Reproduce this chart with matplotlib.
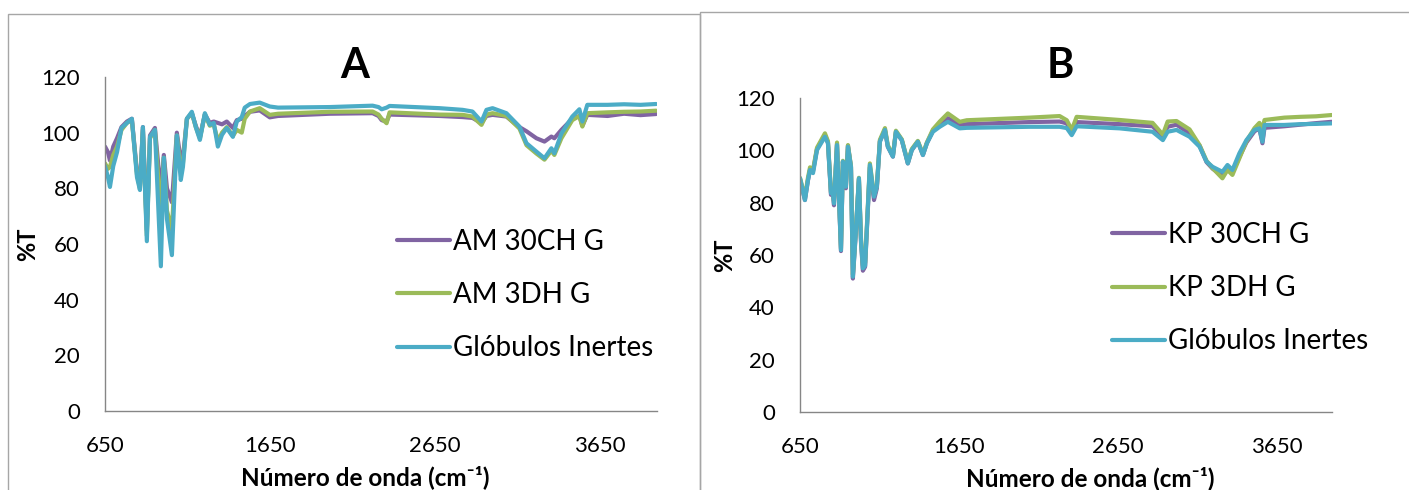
import numpy as np
import matplotlib
matplotlib.use("Agg")
import matplotlib.pyplot as plt
from matplotlib.patches import Rectangle

plt.rcParams['font.family'] = ['Lato', 'DejaVu Sans']

# Espectros IR - painel A (AM)
wn_a = [650, 668, 680, 700, 723, 750, 783, 813, 844, 862, 880, 904, 923, 953, 989,
        1007, 1026, 1056, 1086, 1110, 1123, 1147, 1177, 1201, 1226, 1256, 1286, 1310,
        1335, 1360, 1389, 1426, 1450, 1480, 1498, 1530, 1589, 1650, 1700, 2014, 2274,
        2310, 2329, 2359, 2377, 2680, 2820, 2880, 2935, 2965, 3002, 3086, 3165, 3208,
        3268, 3317, 3359, 3377, 3420, 3486, 3529, 3547, 3577, 3700, 3800, 3900, 3995]
am_30ch = [95, 93, 90, 95, 98, 102, 104, 105, 86, 81, 102, 65, 99, 101.7, 78,
           92, 80, 75, 100, 90, 91, 105, 107, 102.5, 98.5, 106.5, 103.5, 104,
           103.5, 103, 104, 101.7, 104.5, 105, 106, 107.5, 108, 105.5, 106, 106.8, 107,
           106, 104.5, 104, 106.5, 106, 105.6, 105.3, 103.5, 106, 106.4, 105.8, 102, 100.5,
           98, 96.8, 98.6, 98, 101, 105, 106, 102.5, 106.4, 106, 106.8, 106.3, 106.7]
am_3dh = [89, 87, 87.7, 92, 95, 101, 103.5, 104.5, 85, 80, 101, 63, 98, 101, 70,
          91, 72, 65, 99, 86, 89, 105, 107, 102, 98, 106.5, 102.5, 103,
          97, 100, 102, 98.8, 101, 100, 105, 107.6, 108.8, 106.4, 106.8, 107.5, 107.6,
          106.5, 105, 103.4, 107.3, 106.5, 106.4, 105.8, 102.8, 106.5, 107, 106, 101.5, 95.5,
          92.5, 90.3, 93.5, 92, 98, 104.5, 106, 102.2, 107, 107.3, 107.5, 107.6, 107.9]
glob_a = [88, 84, 80.5, 88, 93, 101.7, 103.5, 105, 84, 79.4, 102, 61, 98.5, 101, 52,
          91, 69, 56, 99, 83, 87.7, 105, 107.5, 102, 97.4, 107, 102.8, 103.5,
          95, 99.2, 101.7, 98.5, 104, 105.6, 109, 110.3, 110.8, 109.4, 109, 109.2, 109.7,
          109.2, 108.4, 109, 109.6, 108.8, 108.2, 107.6, 104, 108.2, 108.8, 107, 102.2, 96.2,
          93.2, 90.8, 94.4, 92.6, 99.7, 105.8, 108.4, 104, 110, 110, 110.2, 110, 110.3]

# Espectros IR - painel B (KP)
wn_b = [650, 681, 700, 713, 732, 757, 807, 826, 845, 855, 864, 883, 908, 920, 939,
        952, 971, 983, 1002, 1021, 1034, 1046, 1060, 1090, 1116, 1134, 1153, 1185,
        1203, 1235, 1254, 1291, 1329, 1354, 1392, 1424, 1449, 1487, 1530, 1581, 1656,
        1700, 2097, 2285, 2330, 2361, 2392, 2663, 2870, 2935, 2965, 3021, 3103, 3166,
        3210, 3248, 3310, 3342, 3373, 3417, 3461, 3512, 3543, 3562, 3575, 3700, 3800,
        3900, 3998]
kp_30ch = [89, 81, 88.5, 92.5, 92, 100.5, 105.8, 103, 83, 85, 79, 102.5, 61.5, 95.5, 85.5,
           101.8, 93.5, 51, 69, 89, 65, 54, 55.5, 93.5, 81, 85.5, 103.5, 107.8,
           101.4, 97.6, 107.1, 103.9, 95, 100.1, 103.3, 98.2, 102.7, 107.5, 109.8, 112.3, 109.8,
           110, 110.8, 111, 110.3, 106.5, 110.8, 110, 109.2, 105.5, 109, 109.8, 106.5, 101.8,
           95.5, 93, 90.3, 93.5, 91.5, 97.5, 103, 107.3, 108.3, 102.7, 108.6, 109.2, 109.8,
           110.4, 110.9]
kp_3dh = [89.5, 82, 89.5, 93.5, 92.5, 101, 106.5, 103.5, 84, 85.5, 80.5, 103, 62.5, 96, 86.5,
          102, 94, 52.5, 70, 89.5, 66.5, 56, 57, 95, 83, 86.5, 104, 108.5,
          102, 98, 107.5, 104.2, 95.5, 100.5, 103.6, 98.6, 103, 108, 111, 114.1, 110.9,
          111.5, 112.5, 113.1, 111.5, 107.8, 112.8, 111.6, 110.5, 106, 111, 111.2, 108, 102,
          96, 93.2, 89.3, 92.5, 90.6, 97, 103.5, 108.5, 110.5, 108, 111.6, 112.5, 112.8,
          113, 113.5]
glob_b = [89.3, 81, 88.6, 92.5, 91.3, 100.1, 105.2, 102.7, 83.6, 85, 79.7, 102, 61.9, 95.7, 86.1,
          101.4, 93.7, 51.7, 69.5, 89.3, 65.7, 54.9, 56, 94.4, 82.3, 86.1, 103.3, 107.8,
          101.4, 97.6, 107.1, 103.9, 95, 100.1, 103.3, 98.2, 102.7, 107.1, 109, 110.9, 108.4,
          108.6, 109, 109, 108.5, 105.8, 109.2, 108.4, 107.1, 103.9, 107.1, 107.8, 105.2, 101.4,
          95.7, 93.7, 91.8, 94.4, 92.5, 98.9, 103.9, 107.8, 108.4, 103.3, 109.7, 109.7, 110,
          110.1, 110.3]

x_ticks = [650, 1650, 2650, 3650]
y_ticks = [0, 20, 40, 60, 80, 100, 120]

cores = ['#8064A2', '#9BBB59', '#4BACC6']

fig = plt.figure(figsize=(14.09, 4.90), dpi=100)

# molduras dos dois gráficos
fig.patches.append(Rectangle((8 / 1409, -0.1), 692 / 1409, 1.1 - 14 / 490,
                             transform=fig.transFigure, fill=False,
                             edgecolor='#a6a6a6', linewidth=1))
fig.patches.append(Rectangle((700 / 1409, -0.1), 720 / 1409, 1.1 - 12 / 490,
                             transform=fig.transFigure, fill=False,
                             edgecolor='#a6a6a6', linewidth=1))


def desenha(ax, wn, series, nomes, titulo, tx, leg_pos, lab_xy, ylab_x):
    for vals, nome, cor in zip(series, nomes, cores):
        ax.plot(wn, vals, color=cor, linewidth=3, label=nome,
                solid_joinstyle='round', solid_capstyle='round')
    ax.set_xlim(650, 4000)
    ax.set_ylim(0, 120)
    ax.set_xticks(x_ticks)
    ax.set_yticks(y_ticks)
    ax.tick_params(length=0, labelsize=16)
    ax.tick_params(axis='x', pad=18)
    ax.tick_params(axis='y', pad=18)
    for s in ['top', 'right']:
        ax.spines[s].set_visible(False)
    for s in ['left', 'bottom']:
        ax.spines[s].set_color('#868686')
        ax.spines[s].set_linewidth(1)
    ax.set_ylabel('%T', fontsize=17, fontweight='bold')
    ax.yaxis.set_label_coords(ylab_x, 0.5)
    ax.set_xlabel('Número de onda (cm⁻¹)', fontsize=17.5, fontweight='bold')
    ax.xaxis.set_label_coords(*lab_xy)
    ax.legend(loc='upper left', bbox_to_anchor=leg_pos, frameon=False, fontsize=20,
              handlelength=1.9, handletextpad=0.12, labelspacing=0.98,
              borderaxespad=0, borderpad=0)
    fig.text(tx, 1 - 66 / 490, titulo, fontsize=30, fontweight='bold',
             ha='center', va='center')


ax_a = fig.add_axes([105 / 1409, 1 - 411 / 490, 552 / 1409, 334 / 490])
desenha(ax_a, wn_a, [am_30ch, am_3dh, glob_a],
        ['AM 30CH G', 'AM 3DH G', 'Glóbulos Inertes'], 'A', 355 / 1409,
        (0.529, 0.545), (0.471, -0.163), -0.12)

ax_b = fig.add_axes([800 / 1409, 1 - 412 / 490, 532 / 1409, 314 / 490])
desenha(ax_b, wn_b, [kp_30ch, kp_3dh, glob_b],
        ['KP 30CH G', 'KP 3DH G', 'Glóbulos Inertes'], 'B', 1060 / 1409,
        (0.586, 0.605), (0.545, -0.172), -0.12)

fig.savefig('out.png', dpi=100)
